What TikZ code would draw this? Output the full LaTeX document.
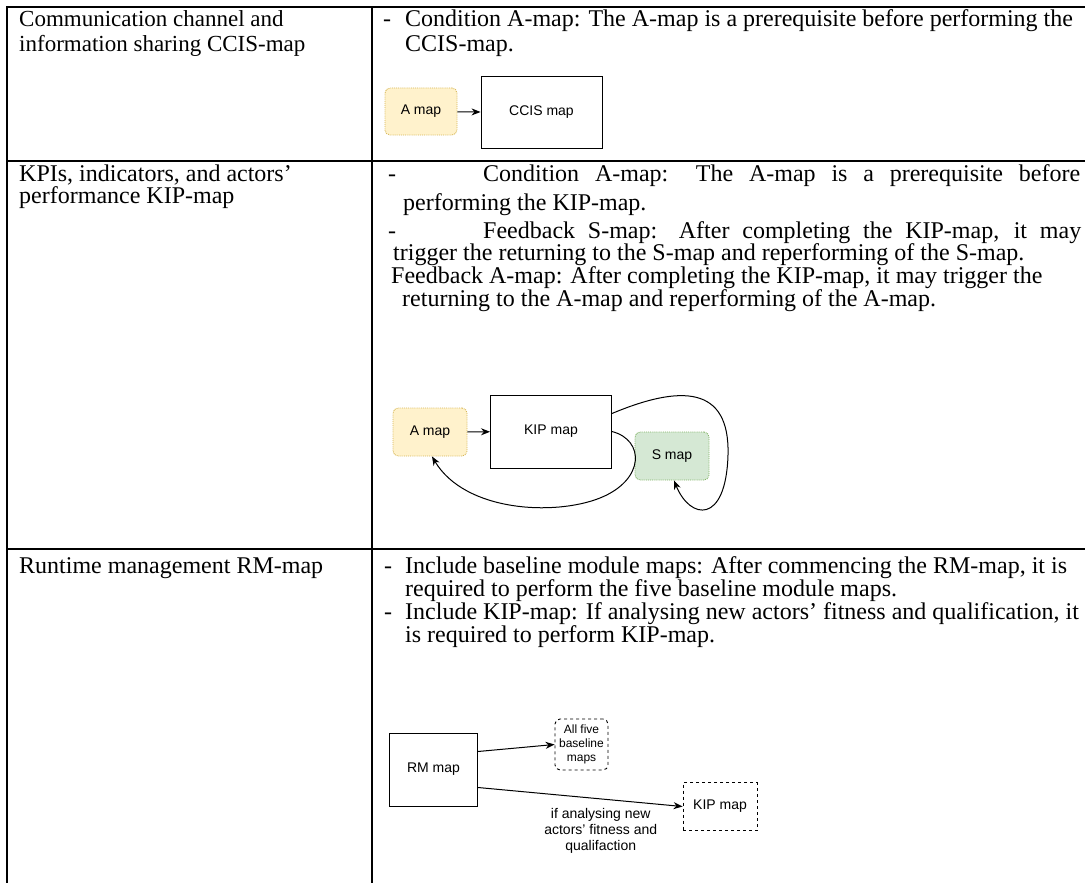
\documentclass[tikz,border=0pt]{standalone}
\usepackage{fontspec}
\setmainfont{Liberation Serif}
\newfontfamily\diafont{Liberation Sans}
\usetikzlibrary{arrows.meta, positioning}
\definecolor{afill}{HTML}{FFF2CC}
\definecolor{aline}{HTML}{D6B656}
\definecolor{sfill}{HTML}{D5E8D4}
\definecolor{sline}{HTML}{82B366}
\newcommand{\tabtext}{\fontsize{24}{26}\selectfont}
\newcommand{\boxtext}{\diafont\fontsize{14}{16}\selectfont}

\begin{document}
\begin{tikzpicture}[
  x=1pt, y=-1pt,
  cell/.style={anchor=base west, inner sep=0pt, font=\tabtext},
  mapbox/.style={rectangle, draw, line width=0.9pt, minimum width=121pt, minimum height=72pt, font=\boxtext},
  abox/.style={rectangle, rounded corners=5pt, draw=aline, densely dotted, line width=0.9pt, fill=afill, minimum width=74pt, minimum height=48pt, font=\boxtext},
  sbox/.style={abox, draw=sline, fill=sfill},
  dashbox/.style={rectangle, draw, dashed, line width=0.9pt, minimum width=74pt, minimum height=48pt, font=\boxtext},
  arrow/.style={-{Stealth[length=9pt, width=7pt]}, line width=1pt},
  grid/.style={line width=1.8pt}
]

\useasboundingbox (0,0) rectangle (1085,883);

\draw[grid] (7,883) -- (7,7) -- (1085,7);
\draw[grid] (372,7) -- (372,883);
\draw[grid] (7,161) -- (1085,161);
\draw[grid] (7,549) -- (1085,549);

% row 1
\node[cell, font=\fontsize{23}{25}\selectfont] (ccisname1) at (19,27) {Communication channel and};
\node[cell, font=\fontsize{23}{25}\selectfont] (ccisname2) at (19,52) {information sharing CCIS-map};
\node[cell] (ccisdash) at (383,27) {-};
\node[cell] (ccisrule1) at (405,27) {Condition A-map: The A-map is a prerequisite before performing the};
\node[cell] (ccisrule2) at (405,52) {CCIS-map.};

\node[abox, minimum width=72pt, minimum height=47pt] (amap1) at (421,111.5) {A map};
\node[mapbox] (ccis) at (541.5,112.5) {CCIS map};
\draw[arrow] (amap1) -- (ccis);

% row 2
\node[cell] (kipname1) at (19,181) {KPIs, indicators, and actors’};
\node[cell] (kipname2) at (19,203) {performance KIP-map};
\node[cell] (kipdash1) at (388,181) {-};
\node[cell] (kiprule1) at (483,181) {\makebox[597pt][s]{Condition A-map: The A-map is a prerequisite before}};
\node[cell] (kiprule2) at (403,210) {performing the KIP-map.};
\node[cell] (kipdash2) at (388,238) {-};
\node[cell] (kiprule3) at (483,238) {\makebox[598pt][s]{Feedback S-map: After completing the KIP-map, it may}};
\node[cell] (kiprule4) at (393,260) {trigger the returning to the S-map and reperforming of the S-map.};
\node[cell] (kiprule5) at (391,283) {Feedback A-map: After completing the KIP-map, it may trigger the};
\node[cell] (kiprule6) at (402,306) {returning to the A-map and reperforming of the A-map.};

\node[abox] (amap2) at (430,432) {A map};
\node[mapbox, minimum height=73pt] (kip) at (551,431.5) {KIP map};
\node[sbox] (smap) at (672,456) {S map};
\draw[arrow] (amap2) -- (kip);
\draw[arrow] ([yshift=18pt]kip.east) .. controls (680,385) and (730,385) .. (728,455)
  .. controls (726,525) and (690,520) .. ([xshift=2pt]smap.south);
\draw[arrow] (kip.east) .. controls (645,440) and (645,480) .. (600,498)
  .. controls (555,516) and (465,512) .. ([xshift=2pt]amap2.south);

% row 3
\node[cell] (rmname) at (19,573) {Runtime management RM-map};
\node[cell] (rmdash1) at (384,573) {-};
\node[cell] (rmrule1) at (405,573) {Include baseline module maps: After commencing the RM-map, it is};
\node[cell] (rmrule2) at (405,596) {required to perform the five baseline module maps.};
\node[cell] (rmdash2) at (384,619) {-};
\node[cell] (rmrule3) at (405,619) {Include KIP-map: If analysing new actors’ fitness and qualification, it};
\node[cell] (rmrule4) at (405,642) {is required to perform KIP-map.};

\node[mapbox, minimum width=88pt, minimum height=73pt] (rm) at (433.5,769.5) {RM map};
\node[dashbox, rounded corners=5pt, minimum width=53pt, minimum height=51pt, inner sep=1pt, align=center,
  font=\diafont\fontsize{12}{14}\selectfont] (allfive) at (581.5,744.5) {All five\\baseline\\maps};
\node[dashbox] (kipmap) at (720,806.5) {KIP map};
\draw[arrow] ([yshift=18pt]rm.east) -- (allfive.west);
\draw[arrow] ([yshift=-18pt]rm.east) -- node[pos=0.6, below=6pt, align=center, font=\boxtext] (fitness)
  {if analysing new\\actors’ fitness and\\qualifaction} (kipmap.west);

\end{tikzpicture}
\end{document}
